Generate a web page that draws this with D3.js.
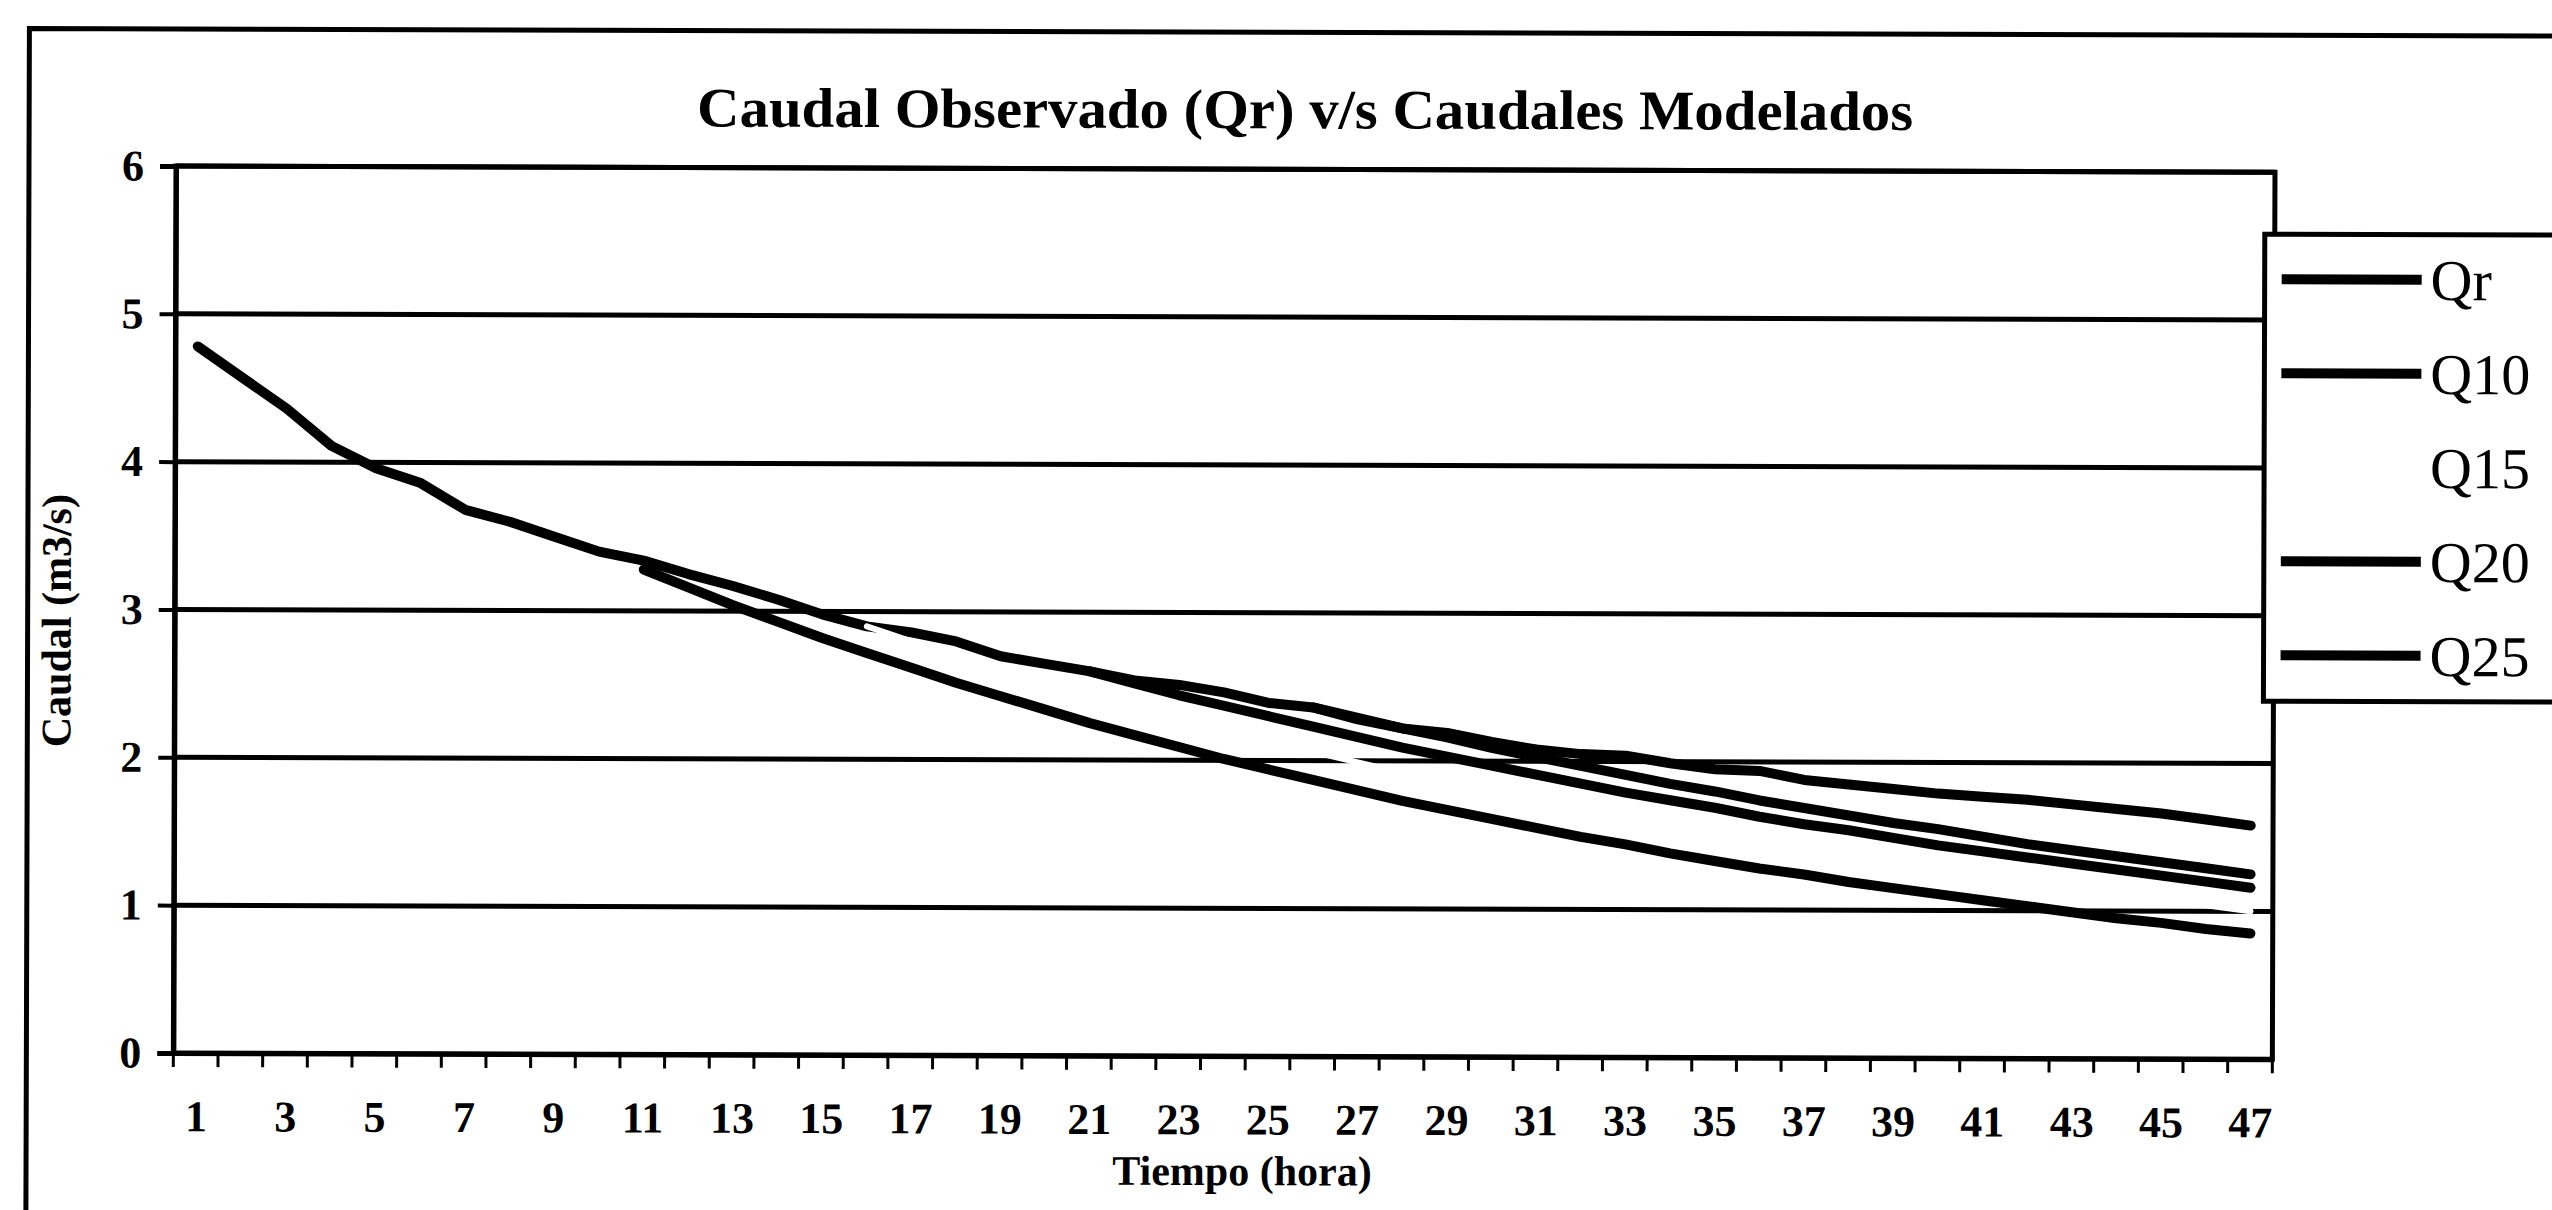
<!DOCTYPE html>
<html>
<head>
<meta charset="utf-8">
<script src="https://cdn.jsdelivr.net/npm/d3@7"></script>
<style>
	body { margin: 0; background: #fff; }
	text { font-family: "Liberation Serif", "Times New Roman", serif; fill: #000; }
</style>
</head>
<body>
<script>
/* data */
var hours = [1, 2, 3, 4, 5, 6, 7, 8, 9, 10, 11, 12, 13, 14, 15, 16, 17, 18, 19, 20, 21, 22, 23, 24,
	25, 26, 27, 28, 29, 30, 31, 32, 33, 34, 35, 36, 37, 38, 39, 40, 41, 42, 43, 44, 45, 46, 47];
var hour_labels = [1, 3, 5, 7, 9, 11, 13, 15, 17, 19, 21, 23, 25, 27, 29, 31, 33, 35, 37, 39, 41, 43, 45, 47];
var y_ticks = [0, 1, 2, 3, 4, 5, 6];

// observed flow, every hour
var qr = [4.78, 4.57, 4.36, 4.11, 3.96, 3.86, 3.68, 3.60, 3.50, 3.40, 3.34, 3.25, 3.17, 3.08, 2.98, 2.90,
	2.86, 2.80, 2.70, 2.65, 2.60, 2.54, 2.51, 2.46, 2.39, 2.36, 2.28, 2.22, 2.19, 2.13, 2.08, 2.05, 2.04,
	1.99, 1.95, 1.94, 1.88, 1.85, 1.82, 1.79, 1.77, 1.75, 1.72, 1.69, 1.66, 1.62, 1.58];
// modelled flows, each one starts at a later hour
var q10_from = 11;
var q10 = [3.28, 3.16, 3.04, 2.93, 2.82, 2.72, 2.62, 2.52, 2.43, 2.34, 2.25, 2.17, 2.09, 2.01, 1.94, 1.87,
	1.80, 1.73, 1.67, 1.61, 1.55, 1.49, 1.44, 1.38, 1.33, 1.28, 1.24, 1.19, 1.15, 1.11, 1.07, 1.03, 0.99,
	0.95, 0.92, 0.88, 0.85];
var q15_from = 16;
var q15 = [2.90, 2.80, 2.71, 2.62, 2.53, 2.44, 2.36, 2.28, 2.20, 2.13, 2.06, 1.99, 1.92, 1.86, 1.79, 1.73,
	1.68, 1.62, 1.56, 1.51, 1.46, 1.41, 1.36, 1.32, 1.27, 1.23, 1.19, 1.15, 1.11, 1.07, 1.04, 1.00];
var q20_from = 21;
var q20 = [2.60, 2.52, 2.44, 2.37, 2.30, 2.23, 2.16, 2.09, 2.03, 1.97, 1.91, 1.85, 1.79, 1.74, 1.69, 1.63,
	1.58, 1.54, 1.49, 1.44, 1.40, 1.36, 1.32, 1.28, 1.24, 1.20, 1.16];
var q25_from = 26;
var q25 = [2.36, 2.29, 2.22, 2.16, 2.09, 2.03, 1.97, 1.91, 1.85, 1.80, 1.74, 1.69, 1.64, 1.59, 1.55, 1.50,
	1.45, 1.41, 1.37, 1.33, 1.29, 1.25];

var series_names = ['Qr', 'Q10', 'Q15', 'Q20', 'Q25'];
// Q15 was printed in a pale colour that the scan dropped
var series_colors = ['#000', '#000', '#fff', '#000', '#000'];

function to_points(values, from) {
	return values.map(function (v, i) { return {hour: from + i, value: v}; });
}
var series = [
	to_points(qr, 1),
	to_points(q10, q10_from),
	to_points(q15, q15_from),
	to_points(q20, q20_from),
	to_points(q25, q25_from)
];

/* chart */
var width = 2552;
var height = 1210;
var plot = {left: 176, right: 2275, top: 166, bottom: 1053};

var svg = d3.select('body').append('svg')
	.attr('width', width)
	.attr('height', height);

// the scan is tilted a little
var g = svg.append('g').attr('transform', 'rotate(0.17, 176, 166)');

// chart border (only top and left fall inside the scan)
g.append('path')
	.attr('d', 'M29,' + (height + 10) + ' V29 H' + (width + 10))
	.attr('fill', 'none')
	.attr('stroke', '#000')
	.attr('stroke-width', 5);

var band = d3.scaleBand().domain(hours).range([plot.left, plot.right]);
var x = d3.scalePoint().domain(hours).range([plot.left, plot.right]).padding(0.5);
var y = d3.scaleLinear().domain([0, 6]).range([plot.bottom, plot.top]);

// gridlines
g.selectAll('.grid')
	.data(y_ticks.slice(1))
	.enter().append('line')
	.attr('class', 'grid')
	.attr('x1', plot.left).attr('x2', plot.right)
	.attr('y1', function (d) { return y(d); })
	.attr('y2', function (d) { return y(d); })
	.attr('stroke', '#000')
	.attr('stroke-width', 5);

g.append('rect')
	.attr('x', plot.left).attr('y', plot.top)
	.attr('width', plot.right - plot.left)
	.attr('height', plot.bottom - plot.top)
	.attr('fill', 'none')
	.attr('stroke', '#000')
	.attr('stroke-width', 5);

// y axis
var yAxis = d3.axisLeft(y).tickValues(y_ticks).tickFormat(d3.format('d')).tickSize(16).tickPadding(16);
var ya = g.append('g')
	.attr('transform', 'translate(' + plot.left + ',0)')
	.call(yAxis);
ya.select('.domain').attr('stroke-width', 5);
ya.selectAll('.tick line').attr('stroke-width', 4);
ya.selectAll('text').attr('font-size', 44).attr('font-weight', 'bold').attr('font-family', null);

// x axis: ticks on the category boundaries, labels on every second hour
var xAxis = d3.axisBottom(x).tickValues(hour_labels).tickSize(0).tickPadding(47);
var xa = g.append('g')
	.attr('transform', 'translate(0,' + plot.bottom + ')')
	.call(xAxis);
xa.select('.domain').attr('stroke-width', 5);
xa.selectAll('text').attr('font-size', 44).attr('font-weight', 'bold').attr('font-family', null);

g.selectAll('.xtick')
	.data(hours.concat(['end']))
	.enter().append('line')
	.attr('class', 'xtick')
	.attr('x1', function (d) { return d == 'end' ? plot.right : band(d); })
	.attr('x2', function (d) { return d == 'end' ? plot.right : band(d); })
	.attr('y1', plot.bottom)
	.attr('y2', plot.bottom + 14)
	.attr('stroke', '#000')
	.attr('stroke-width', 3);

// lines
var line = d3.line()
	.x(function (d) { return x(d.hour); })
	.y(function (d) { return y(d.value); });

g.selectAll('.series')
	.data(series)
	.enter().append('path')
	.attr('class', 'series')
	.attr('d', line)
	.attr('fill', 'none')
	.attr('stroke', function (d, i) { return series_colors[i]; })
	.attr('stroke-width', function (d, i) { return i == 2 ? 6 : 10; })
	.attr('stroke-linecap', 'round')
	.attr('stroke-linejoin', 'round');

// titles
g.append('text')
	.text('Caudal Observado (Qr) v/s Caudales Modelados')
	.attr('x', 1305).attr('y', 125)
	.attr('text-anchor', 'middle')
	.attr('font-size', 56)
	.attr('font-weight', 'bold')
	.attr('textLength', 1216)
	.attr('lengthAdjust', 'spacingAndGlyphs');
g.append('text')
	.text('Tiempo (hora)')
	.attr('x', 1245).attr('y', 1182)
	.attr('text-anchor', 'middle')
	.attr('font-size', 42)
	.attr('font-weight', 'bold');
g.append('text')
	.text('Caudal (m3/s)')
	.attr('transform', 'translate(72,621) rotate(-90)')
	.attr('text-anchor', 'middle')
	.attr('font-size', 42)
	.attr('font-weight', 'bold');

// legend
var legend = g.append('g').attr('transform', 'translate(2265,228)');
legend.append('rect')
	.attr('width', 320).attr('height', 467)
	.attr('fill', '#fff')
	.attr('stroke', '#000')
	.attr('stroke-width', 5);
var rows = legend.selectAll('.row')
	.data(series_names)
	.enter().append('g')
	.attr('class', 'row')
	.attr('transform', function (d, i) { return 'translate(0,' + (45 + i * 94) + ')'; });
rows.append('line')
	.attr('x1', 17).attr('x2', 157)
	.attr('stroke', function (d, i) { return series_colors[i]; })
	.attr('stroke-width', 10);
rows.append('text')
	.text(function (d) { return d; })
	.attr('x', 166)
	.attr('dy', '0.35em')
	.attr('font-size', 58);
</script>
</body>
</html>
